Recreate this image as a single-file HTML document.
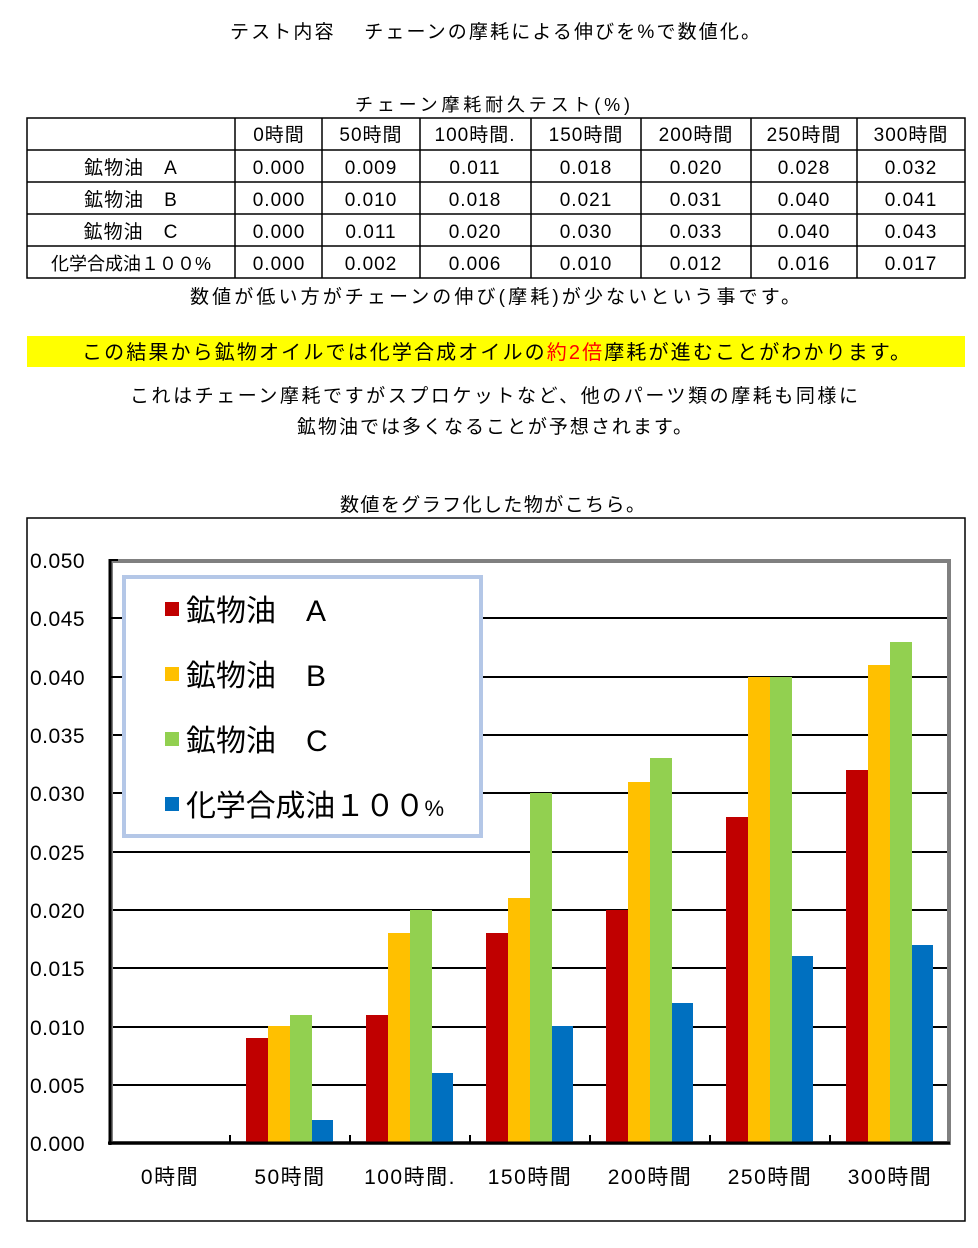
<!DOCTYPE html>
<html><head><meta charset="utf-8"><style>
body{margin:0;background:#fff;}
svg text{font-family:"Liberation Sans","Noto Sans CJK JP",sans-serif;fill:#000;}
</style></head><body>
<svg width="978" height="1243" viewBox="0 0 978 1243" xmlns="http://www.w3.org/2000/svg">
<text x="230" y="38" font-size="19" textLength="530" lengthAdjust="spacing">テスト内容　 チェーンの摩耗による伸びを%で数値化。</text>
<text x="355" y="111" font-size="18" textLength="275" lengthAdjust="spacing">チェーン摩耗耐久テスト(%)</text>
<g stroke="#000" stroke-width="1.5" fill="none">
<rect x="27" y="118" width="938" height="160"/>
<line x1="27" y1="150" x2="965" y2="150"/><line x1="27" y1="182" x2="965" y2="182"/>
<line x1="27" y1="214" x2="965" y2="214"/><line x1="27" y1="246" x2="965" y2="246"/>
<line x1="235" y1="118" x2="235" y2="278"/><line x1="322" y1="118" x2="322" y2="278"/>
<line x1="420" y1="118" x2="420" y2="278"/><line x1="531" y1="118" x2="531" y2="278"/>
<line x1="641" y1="118" x2="641" y2="278"/><line x1="751" y1="118" x2="751" y2="278"/>
<line x1="857" y1="118" x2="857" y2="278"/>
</g>
<g font-size="19" text-anchor="middle" letter-spacing="1">
<text x="279" y="141">0時間</text><text x="371" y="141">50時間</text><text x="475" y="141">100時間.</text><text x="586" y="141">150時間</text><text x="696" y="141">200時間</text><text x="804" y="141">250時間</text><text x="911" y="141">300時間</text>
<text x="131" y="174">鉱物油　A</text><text x="131" y="206">鉱物油　B</text><text x="131" y="238">鉱物油　C</text><text x="131" y="270" font-size="18" letter-spacing="0">化学合成油１００%</text>
<text x="279" y="174">0.000</text><text x="371" y="174">0.009</text><text x="475" y="174">0.011</text><text x="586" y="174">0.018</text><text x="696" y="174">0.020</text><text x="804" y="174">0.028</text><text x="911" y="174">0.032</text>
<text x="279" y="206">0.000</text><text x="371" y="206">0.010</text><text x="475" y="206">0.018</text><text x="586" y="206">0.021</text><text x="696" y="206">0.031</text><text x="804" y="206">0.040</text><text x="911" y="206">0.041</text>
<text x="279" y="238">0.000</text><text x="371" y="238">0.011</text><text x="475" y="238">0.020</text><text x="586" y="238">0.030</text><text x="696" y="238">0.033</text><text x="804" y="238">0.040</text><text x="911" y="238">0.043</text>
<text x="279" y="270">0.000</text><text x="371" y="270">0.002</text><text x="475" y="270">0.006</text><text x="586" y="270">0.010</text><text x="696" y="270">0.012</text><text x="804" y="270">0.016</text><text x="911" y="270">0.017</text>
</g>
<text x="190" y="303" font-size="19" textLength="610" lengthAdjust="spacing">数値が低い方がチェーンの伸び(摩耗)が少ないという事です。</text>
<rect x="27" y="336" width="938" height="31" fill="#ffff00"/>
<text x="82" y="359" font-size="20" textLength="828" lengthAdjust="spacing">この結果から鉱物オイルでは化学合成オイルの<tspan style="fill:#ff0000">約2倍</tspan>摩耗が進むことがわかります。</text>
<text x="130" y="402" font-size="19" textLength="728" lengthAdjust="spacing">これはチェーン摩耗ですがスプロケットなど、他のパーツ類の摩耗も同様に</text>
<text x="297" y="433" font-size="19" textLength="395" lengthAdjust="spacing">鉱物油では多くなることが予想されます。</text>
<text x="340" y="511" font-size="19" textLength="305" lengthAdjust="spacing">数値をグラフ化した物がこちら。</text>
<rect x="27" y="518" width="938" height="703" fill="none" stroke="#000" stroke-width="1.5"/>
<g stroke="#000" stroke-width="2">
<line x1="110" y1="618" x2="950" y2="618"/><line x1="110" y1="677" x2="950" y2="677"/>
<line x1="110" y1="735" x2="950" y2="735"/><line x1="110" y1="793" x2="950" y2="793"/>
<line x1="110" y1="852" x2="950" y2="852"/><line x1="110" y1="910" x2="950" y2="910"/>
<line x1="110" y1="968" x2="950" y2="968"/><line x1="110" y1="1027" x2="950" y2="1027"/>
<line x1="110" y1="1085" x2="950" y2="1085"/>
</g>
<rect x="111" y="561" width="838" height="582" fill="none" stroke="#808080" stroke-width="4"/>
<g>
<rect x="246" y="1038" width="22" height="105" fill="#c00000"/><rect x="268" y="1026" width="22" height="117" fill="#ffc000"/><rect x="290" y="1015" width="22" height="128" fill="#92d050"/><rect x="312" y="1120" width="21" height="23" fill="#0070c0"/>
<rect x="366" y="1015" width="22" height="128" fill="#c00000"/><rect x="388" y="933" width="22" height="210" fill="#ffc000"/><rect x="410" y="910" width="22" height="233" fill="#92d050"/><rect x="432" y="1073" width="21" height="70" fill="#0070c0"/>
<rect x="486" y="933" width="22" height="210" fill="#c00000"/><rect x="508" y="898" width="22" height="245" fill="#ffc000"/><rect x="530" y="793" width="22" height="350" fill="#92d050"/><rect x="552" y="1026" width="21" height="117" fill="#0070c0"/>
<rect x="606" y="910" width="22" height="233" fill="#c00000"/><rect x="628" y="782" width="22" height="361" fill="#ffc000"/><rect x="650" y="758" width="22" height="385" fill="#92d050"/><rect x="672" y="1003" width="21" height="140" fill="#0070c0"/>
<rect x="726" y="817" width="22" height="326" fill="#c00000"/><rect x="748" y="677" width="22" height="466" fill="#ffc000"/><rect x="770" y="677" width="22" height="466" fill="#92d050"/><rect x="792" y="956" width="21" height="187" fill="#0070c0"/>
<rect x="846" y="770" width="22" height="373" fill="#c00000"/><rect x="868" y="665" width="22" height="478" fill="#ffc000"/><rect x="890" y="642" width="22" height="501" fill="#92d050"/><rect x="912" y="945" width="21" height="198" fill="#0070c0"/>
</g>
<g stroke="#000" stroke-width="3">
<line x1="110" y1="559" x2="110" y2="1145"/><line x1="108" y1="1143" x2="950" y2="1143"/>
</g>
<g stroke="#000" stroke-width="2">
<line x1="110" y1="560" x2="118" y2="560"/><line x1="110" y1="618" x2="118" y2="618"/><line x1="110" y1="677" x2="118" y2="677"/>
<line x1="230" y1="1135" x2="230" y2="1143"/><line x1="350" y1="1135" x2="350" y2="1143"/><line x1="470" y1="1135" x2="470" y2="1143"/><line x1="590" y1="1135" x2="590" y2="1143"/><line x1="710" y1="1135" x2="710" y2="1143"/><line x1="830" y1="1135" x2="830" y2="1143"/>
</g>
<g font-size="21" letter-spacing="0.5">
<text x="30" y="568">0.050</text><text x="30" y="626">0.045</text><text x="30" y="685">0.040</text><text x="30" y="743">0.035</text><text x="30" y="801">0.030</text><text x="30" y="860">0.025</text><text x="30" y="918">0.020</text><text x="30" y="976">0.015</text><text x="30" y="1035">0.010</text><text x="30" y="1093">0.005</text><text x="30" y="1151">0.000</text>
</g>
<g font-size="21" text-anchor="middle" letter-spacing="1.5">
<text x="170" y="1184">0時間</text><text x="290" y="1184">50時間</text><text x="410" y="1184">100時間.</text><text x="530" y="1184">150時間</text><text x="650" y="1184">200時間</text><text x="770" y="1184">250時間</text><text x="890" y="1184">300時間</text>
</g>
<rect x="124" y="577" width="357" height="259" fill="#fff" stroke="#b4c7e7" stroke-width="4"/>
<g font-size="30">
<rect x="165" y="602" width="14" height="14" fill="#c00000"/><text x="186" y="621">鉱物油　A</text>
<rect x="165" y="667" width="14" height="14" fill="#ffc000"/><text x="186" y="686">鉱物油　B</text>
<rect x="165" y="732" width="14" height="14" fill="#92d050"/><text x="186" y="751">鉱物油　C</text>
<rect x="165" y="797" width="14" height="14" fill="#0070c0"/><text x="186" y="816" textLength="258" lengthAdjust="spacing">化学合成油１００<tspan font-size="22">%</tspan></text>
</g>
</svg>
</body></html>
